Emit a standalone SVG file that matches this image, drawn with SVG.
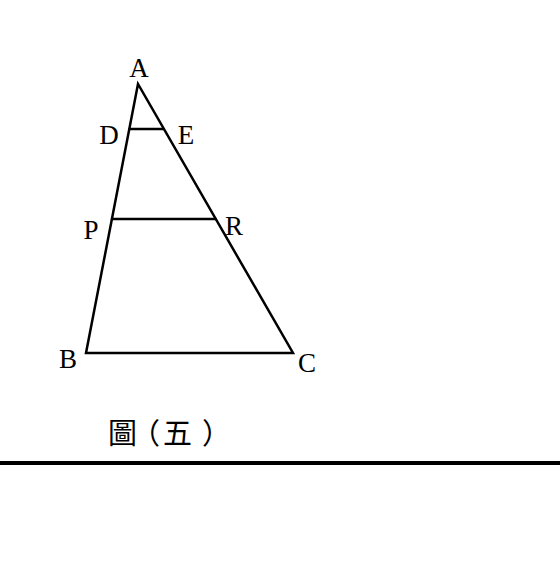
<svg xmlns="http://www.w3.org/2000/svg" width="560" height="570" viewBox="0 0 560 570">
<style>
.ln{stroke:#000;stroke-width:2.5;fill:none;stroke-linecap:round;stroke-linejoin:miter}
.lb{font-family:"Liberation Serif","Times New Roman",serif;font-size:27px;fill:#000}
.cap{font-family:"Noto Sans CJK TC","Noto Sans CJK SC",sans-serif;font-size:29px;fill:#000}
</style>
<rect width="560" height="570" fill="#fff"/>
<g id="connectors">
<path class="ln" d="M138,84 L86,353 L293,353 Z"/>
<line class="ln" x1="129.5" y1="129" x2="163.5" y2="129"/>
<line class="ln" x1="112" y1="219" x2="215.5" y2="219"/>
</g>
<g id="A"><text class="lb" x="139" y="77" text-anchor="middle">A</text></g>
<g id="D"><text class="lb" x="109" y="144" text-anchor="middle">D</text></g>
<g id="E"><text class="lb" x="186" y="144" text-anchor="middle">E</text></g>
<g id="P"><text class="lb" x="91" y="239" text-anchor="middle">P</text></g>
<g id="R"><text class="lb" x="234" y="235" text-anchor="middle">R</text></g>
<g id="B"><text class="lb" x="68" y="368" text-anchor="middle">B</text></g>
<g id="C"><text class="lb" x="307" y="372" text-anchor="middle">C</text></g>
<g id="caption"><text class="cap" x="108 131 163 202" y="444">圖（五）</text></g>
<line x1="0" y1="463" x2="560" y2="463" stroke="#000" stroke-width="4"/>
</svg>
